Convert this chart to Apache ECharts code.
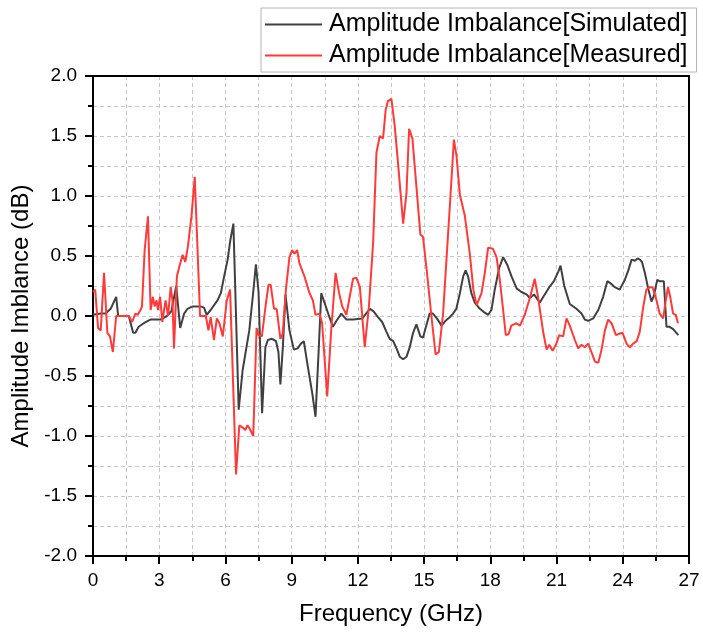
<!DOCTYPE html>
<html>
<head>
<meta charset="utf-8">
<script src="https://cdn.jsdelivr.net/npm/echarts@6/dist/echarts.min.js"></script>
<style>
html,body{margin:0;padding:0;background:#fff;}
#chart{width:703px;height:636px;}
</style>
</head>
<body>
<div id="chart"></div>
<script>
var seriesNames = ['Amplitude Imbalance[Simulated]', 'Amplitude Imbalance[Measured]'];
var xTicks = [0, 3, 6, 9, 12, 15, 18, 21, 24, 27];
var yTicks = [-2.0, -1.5, -1.0, -0.5, 0.0, 0.5, 1.0, 1.5, 2.0];

// [frequency GHz, imbalance dB]
var simulated = [
[0,0.01],[0.35,0.02],[0.57,0.02],[0.8,0.06],[0.95,0.12],[1.05,0.16],[1.14,0],[1.62,0],[1.7,0.01],
[1.82,-0.14],[1.92,-0.14],[2.07,-0.09],[2.3,-0.06],[2.6,-0.03],[3.05,-0.03],[3.35,0],[3.55,0.04],
[3.77,0.25],[3.95,-0.1],[4.13,0.02],[4.28,0.06],[4.51,0.08],[4.88,0.08],[5.03,0.07],[5.15,0.01],
[5.33,0.05],[5.64,0.13],[5.79,0.19],[5.94,0.33],[6.1,0.47],[6.22,0.63],[6.36,0.77],[6.6,-0.78],
[6.78,-0.45],[7.08,-0.12],[7.26,0.2],[7.38,0.43],[7.5,0.2],[7.66,-0.81],[7.81,-0.26],[7.92,-0.2],
[8.11,-0.19],[8.29,-0.21],[8.4,-0.3],[8.49,-0.57],[8.6,-0.26],[8.72,0.18],[8.9,-0.12],[9.1,-0.28],
[9.27,-0.27],[9.42,-0.23],[9.55,-0.21],[9.73,-0.42],[9.93,-0.64],[10.08,-0.84],[10.23,-0.26],
[10.34,0.19],[10.49,0.11],[10.71,-0.01],[10.87,-0.09],[11.03,-0.04],[11.25,0.02],[11.48,-0.03],
[11.79,-0.03],[12.2,-0.02],[12.54,0.06],[12.7,0.04],[12.91,-0.01],[13.1,-0.05],[13.29,-0.13],
[13.44,-0.19],[13.6,-0.21],[13.75,-0.27],[13.9,-0.34],[14.05,-0.36],[14.2,-0.34],[14.35,-0.26],
[14.5,-0.14],[14.65,-0.07],[14.73,-0.06],[14.83,-0.17],[14.95,-0.18],[15.1,-0.08],[15.25,0.02],
[15.4,0.02],[15.58,-0.02],[15.79,-0.08],[15.97,-0.04],[16.16,-0.01],[16.31,0.02],[16.46,0.06],
[16.62,0.19],[16.77,0.33],[16.88,0.38],[16.99,0.33],[17.14,0.19],[17.3,0.11],[17.53,0.06],
[17.73,0.03],[17.9,0.01],[18.05,0.05],[18.2,0.22],[18.4,0.4],[18.58,0.49],[18.76,0.43],[18.96,0.33],
[19.19,0.23],[19.41,0.2],[19.64,0.18],[19.79,0.15],[19.98,0.18],[20.24,0.11],[20.4,0.16],
[20.67,0.24],[20.88,0.29],[21.08,0.37],[21.18,0.42],[21.35,0.25],[21.6,0.1],[21.9,0.06],
[22.13,0.02],[22.28,-0.03],[22.43,-0.04],[22.66,-0.02],[22.89,0.05],[23.11,0.16],[23.3,0.29],
[23.46,0.27],[23.64,0.24],[23.86,0.22],[24.09,0.3],[24.25,0.38],[24.4,0.47],[24.55,0.46],
[24.67,0.48],[24.78,0.47],[24.87,0.45],[25.0,0.36],[25.15,0.23],[25.3,0.12],[25.41,0.17],
[25.56,0.3],[25.67,0.29],[25.86,0.29],[25.98,-0.09],[26.12,-0.09],[26.28,-0.11],[26.52,-0.16]
];

var measured = [
[0,0.2],[0.1,0.22],[0.23,-0.1],[0.35,-0.12],[0.5,0.36],[0.65,-0.14],[0.77,-0.17],[0.9,-0.3],
[1.05,0],[1.62,0],[1.77,-0.05],[1.92,0.02],[2.03,0.01],[2.15,0.05],[2.22,0.08],[2.34,0.55],
[2.49,0.83],[2.61,0.05],[2.71,0.16],[2.79,0.08],[2.88,0.13],[2.94,0.05],[3.04,0.16],[3.14,-0.05],
[3.22,0.05],[3.29,0.13],[3.4,0],[3.52,0.24],[3.6,0.13],[3.67,-0.27],[3.8,0.33],[3.91,0.41],
[4.06,0.51],[4.18,0.45],[4.3,0.58],[4.46,0.83],[4.61,1.16],[4.85,0],[5.11,0],[5.23,-0.12],
[5.33,-0.01],[5.48,-0.2],[5.61,-0.02],[5.73,-0.06],[5.88,-0.17],[6.06,0.13],[6.21,0.22],
[6.48,-1.32],[6.63,-0.91],[6.78,-0.93],[6.9,-0.95],[7.0,-0.91],[7.13,-0.95],[7.26,-1.0],
[7.41,-0.1],[7.5,-0.16],[7.65,-0.17],[7.83,0.1],[7.95,0.26],[8.05,0.26],[8.2,0.06],[8.32,0.06],
[8.49,-0.19],[8.59,-0.15],[8.75,0.24],[8.9,0.49],[9.02,0.55],[9.13,0.52],[9.25,0.55],[9.35,0.44],
[9.58,0.33],[9.81,0.19],[9.96,0.13],[10.08,0.01],[10.26,0.02],[10.38,-0.06],[10.61,-0.67],
[10.79,-0.12],[10.99,0.36],[11.15,0.19],[11.29,0.08],[11.48,0.01],[11.78,0.31],[11.93,0.32],
[12.09,0.24],[12.31,-0.26],[12.5,0.08],[12.69,0.61],[12.84,1.36],[12.99,1.5],[13.14,1.48],
[13.26,1.72],[13.36,1.79],[13.52,1.81],[13.67,1.58],[13.82,1.27],[14.05,0.77],[14.2,1.02],
[14.32,1.56],[14.47,1.48],[14.65,1.08],[14.83,0.68],[14.95,0.66],[15.13,0.36],[15.33,0],
[15.52,-0.32],[15.67,-0.3],[15.86,0.02],[16.04,0.55],[16.19,0.99],[16.35,1.47],[16.47,1.33],
[16.62,1.01],[16.84,0.84],[17.07,0.52],[17.23,0.22],[17.38,0.09],[17.6,0.19],[17.75,0.36],
[17.9,0.57],[18.12,0.56],[18.28,0.49],[18.43,0.3],[18.58,0.05],[18.7,-0.16],[18.83,-0.15],
[18.95,-0.08],[19.19,-0.06],[19.34,-0.08],[19.56,0.01],[19.79,0.15],[20.01,0.31],[20.16,0.16],
[20.4,-0.14],[20.55,-0.28],[20.67,-0.24],[20.82,-0.29],[20.97,-0.24],[21.12,-0.16],[21.3,-0.17],
[21.45,-0.02],[21.6,-0.08],[21.83,-0.2],[21.98,-0.27],[22.13,-0.24],[22.28,-0.26],[22.43,-0.23],
[22.58,-0.3],[22.74,-0.38],[22.89,-0.39],[23.04,-0.28],[23.19,-0.12],[23.34,-0.03],[23.49,-0.06],
[23.69,-0.16],[23.81,-0.15],[23.99,-0.14],[24.17,-0.23],[24.32,-0.26],[24.47,-0.23],[24.63,-0.21],
[24.77,-0.13],[24.93,0.08],[25.07,0.22],[25.23,0.24],[25.35,0.24],[25.53,0.13],[25.67,0.02],
[25.83,-0.02],[25.93,0.11],[26.05,0.24],[26.15,0.16],[26.28,0.02],[26.4,0.01],[26.5,-0.06]
];

var chart = echarts.init(document.getElementById('chart'), null, {renderer: 'canvas'});
var font = 'Liberation Sans, Arial, sans-serif';
var gridLine = {show: true, showMinLine: false, showMaxLine: false, lineStyle: {color: '#c8c8c8', type: [4, 3], width: 1}};
var frameAxisLine = {show: true, onZero: false, lineStyle: {color: '#000', width: 2}};

chart.setOption({
  animation: false,
  backgroundColor: '#fff',
  grid: {left: 93, right: 14, top: 76, bottom: 80},
  legend: {
    orient: 'vertical', left: 261, top: 8,
    data: seriesNames,
    icon: 'rect', itemWidth: 57, itemHeight: 2, itemGap: 6,
    padding: [4, 9, 4, 4],
    borderColor: '#b4b4b4', borderWidth: 1,
    textStyle: {fontFamily: font, fontSize: 25, color: '#000', padding: [0, 0, 0, 2]},
    selectedMode: false
  },
  xAxis: [{
    type: 'value', min: xTicks[0], max: xTicks[xTicks.length - 1], interval: 3,
    name: 'Frequency (GHz)', nameLocation: 'middle', nameGap: 46,
    nameTextStyle: {fontFamily: font, fontSize: 24, color: '#000'},
    axisLine: frameAxisLine,
    axisTick: {show: true, inside: false, length: 8, lineStyle: {color: '#000', width: 2}},
    minorTick: {show: true, splitNumber: 2, length: 5, lineStyle: {color: '#000', width: 2}},
    axisLabel: {fontFamily: font, fontSize: 19, color: '#000', margin: 15},
    splitLine: gridLine,
    minorSplitLine: gridLine
  }, {
    type: 'value', position: 'top', min: xTicks[0], max: xTicks[xTicks.length - 1],
    axisLine: frameAxisLine, axisTick: {show: false}, axisLabel: {show: false}, splitLine: {show: false}
  }],
  yAxis: [{
    type: 'value', min: yTicks[0], max: yTicks[yTicks.length - 1], interval: 0.5,
    name: 'Amplitude Imblance (dB)', nameLocation: 'middle', nameGap: 53,
    nameTextStyle: {fontFamily: font, fontSize: 24, color: '#000'},
    axisLine: frameAxisLine,
    axisTick: {show: true, inside: false, length: 8, lineStyle: {color: '#000', width: 2}},
    minorTick: {show: true, splitNumber: 2, length: 5, lineStyle: {color: '#000', width: 2}},
    axisLabel: {fontFamily: font, fontSize: 19, color: '#000', margin: 16, formatter: function (v) { return v.toFixed(1); }},
    splitLine: gridLine,
    minorSplitLine: gridLine
  }, {
    type: 'value', position: 'right', min: yTicks[0], max: yTicks[yTicks.length - 1],
    axisLine: frameAxisLine, axisTick: {show: false}, axisLabel: {show: false}, splitLine: {show: false}
  }],
  series: [
    {name: seriesNames[0], type: 'line', data: simulated, showSymbol: false, symbol: 'none',
     lineStyle: {color: '#404040', width: 2}, itemStyle: {color: '#404040'}, z: 2},
    {name: seriesNames[1], type: 'line', data: measured, showSymbol: false, symbol: 'none',
     lineStyle: {color: '#ff3a3a', width: 2}, itemStyle: {color: '#ff3a3a'}, z: 3}
  ]
});
</script>
</body>
</html>
